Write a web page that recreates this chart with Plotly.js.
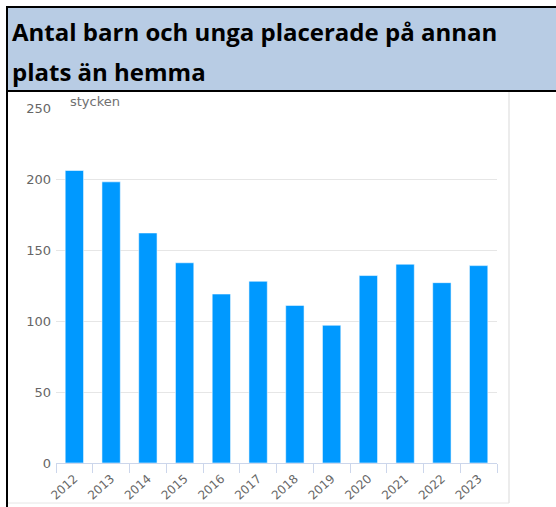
<!DOCTYPE html>
<html>
<head>
<meta charset="utf-8">
<script src="https://cdn.plot.ly/plotly-3.0.1.min.js"></script>
<style>
html,body{margin:0;padding:0;background:#fff;}
#chart{width:556px;height:507px;}
</style>
</head>
<body>
<div id="chart"></div>
<script>
// Data
const years = ['2012','2013','2014','2015','2016','2017','2018','2019','2020','2021','2022','2023'];
const counts = [206, 198, 162, 141, 119, 128, 111, 97, 132, 140, 127, 139];
const yTicks = [0, 50, 100, 150, 200, 250];
const titleLine1 = 'Antal barn och unga placerade på annan';
const titleLine2 = 'plats än hemma';
const unitLabel = 'stycken';

// Layout geometry (pixels)
const W = 556, H = 507;
const M = {l: 56, r: 59, t: 108, b: 44};
const pw = W - M.l - M.r, ph = H - M.t - M.b;
const px = v => (v - M.l) / pw;           // pixel x -> paper x
const py = v => (H - M.b - v) / ph;       // pixel y -> paper y

const trace = {
  type: 'bar',
  x: years,
  y: counts,
  width: 0.5,
  marker: {color: '#0099ff', line: {color: 'rgba(255,255,255,0.55)', width: 1}},
  hoverinfo: 'x+y'
};

const layout = {
  width: W, height: H,
  margin: M,
  paper_bgcolor: '#ffffff',
  plot_bgcolor: '#ffffff',
  showlegend: false,
  bargap: 0.5,
  xaxis: {
    type: 'category',
    showgrid: false,
    showline: true, linecolor: '#ccd6eb', linewidth: 1,
    ticks: 'outside', tickson: 'boundaries', ticklen: 9, tickcolor: '#ccd6eb', tickwidth: 1,
    tickangle: -42,
    ticklabelstandoff: 3,
    tickfont: {family: 'DejaVu Sans', size: 12, color: '#666666'},
    zeroline: false,
    fixedrange: true
  },
  yaxis: {
    range: [0, 250],
    tickvals: yTicks,
    ticktext: yTicks.map(String),
    showgrid: true, gridcolor: '#e6e6e6', gridwidth: 1,
    zeroline: false, showline: false,
    ticks: '',
    ticklabelstandoff: 4,
    tickfont: {family: 'DejaVu Sans', size: 13, color: '#666666'},
    fixedrange: true
  },
  shapes: [
    // title box
    {type: 'rect', xref: 'paper', yref: 'paper', x0: px(7), x1: px(560), y0: py(91), y1: py(7),
     fillcolor: '#b8cce4', line: {color: '#000000', width: 2}, layer: 'above'},
    // left black border
    {type: 'line', xref: 'paper', yref: 'paper', x0: px(7), x1: px(7), y0: py(7), y1: py(510),
     line: {color: '#000000', width: 2}},
    // right grey frame line
    {type: 'line', xref: 'paper', yref: 'paper', x0: px(509), x1: px(509), y0: py(92), y1: py(503),
     line: {color: '#d9d9d9', width: 1}},
    // bottom grey frame line
    {type: 'line', xref: 'paper', yref: 'paper', x0: px(8), x1: px(509), y0: py(503), y1: py(503),
     line: {color: '#e6e6e6', width: 1}}
  ],
  annotations: [
    {text: '<b>' + titleLine1 + '</b>', xref: 'paper', yref: 'paper', x: px(10), y: py(50),
     xanchor: 'left', yanchor: 'bottom', showarrow: false, align: 'left',
     font: {family: 'Open Sans', size: 24, color: '#000000'}},
    {text: '<b>' + titleLine2 + '</b>', xref: 'paper', yref: 'paper', x: px(10), y: py(90),
     xanchor: 'left', yanchor: 'bottom', showarrow: false, align: 'left',
     font: {family: 'Open Sans', size: 24, color: '#000000'}},
    {text: unitLabel, xref: 'paper', yref: 'paper', x: px(68), y: py(101),
     xanchor: 'left', yanchor: 'middle', showarrow: false,
     font: {family: 'DejaVu Sans', size: 13, color: '#707070'}}
  ]
};

Plotly.newPlot('chart', [trace], layout, {displayModeBar: false, staticPlot: true});
</script>
</body>
</html>
